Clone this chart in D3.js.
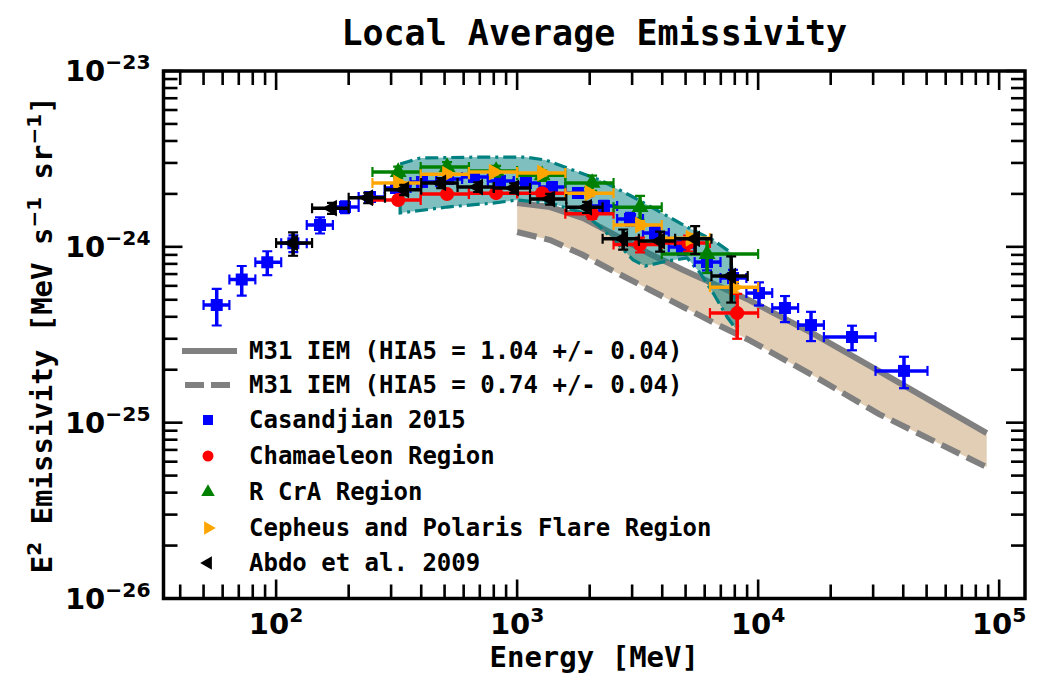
<!DOCTYPE html>
<html><head><meta charset="utf-8">
<script src="https://cdn.jsdelivr.net/npm/d3@7"></script>
<style>body{margin:0;background:#fff} svg{display:block}</style>
</head><body>
<svg id="chart" width="1050" height="688"></svg>
<script>
// ---------------- DATA ----------------
const xDomain = [34.1, 128000];
const yDomain = [1e-26, 1e-23];
const xMajorTicks = [1e2, 1e3, 1e4, 1e5];
const xTickExp = ["2", "3", "4", "5"];
const yMajorTicks = [1e-26, 1e-25, 1e-24, 1e-23];
const yTickExp = ["−26", "−25", "−24", "−23"];

// Casandjian 2015 (blue squares)
const casE = [56.7, 72.0, 91.9, 117.9, 152.1, 193.1, 245.3, 314.4, 402.9, 516.7, 662.2, 849, 1088, 1395, 1788, 2293, 2939, 3733, 4831, 6135, 7864, 10080, 12920, 16570, 24520, 40280];
const casEdges = [50, 64, 82, 105, 134, 172, 220, 282, 361, 462, 591, 756, 968, 1239, 1586, 2031, 2600, 3328, 4259, 5453, 6979, 8937, 11440, 14650, 18740, 30690, 50420];
const casV = [4.67e-25, 6.53e-25, 8.17e-25, 1.047e-24, 1.331e-24, 1.684e-24, 1.92e-24, 2.161e-24, 2.337e-24, 2.431e-24, 2.495e-24, 2.368e-24, 2.307e-24, 2.189e-24, 2.024e-24, 1.707e-24, 1.44e-24, 1.199e-24, 9.98e-25, 8.19e-25, 6.65e-25, 5.46e-25, 4.49e-25, 3.59e-25, 3.07e-25, 1.97e-25];
const casErr = [1.1e-25, 1.25e-25, 1.27e-25, 1.15e-25, 1.4e-25, 1.3e-25, 1.2e-25, 1.2e-25, 1.2e-25, 1.2e-25, 1.2e-25, 1.2e-25, 1.2e-25, 1.2e-25, 1.2e-25, 1.2e-25, 1.2e-25, 1.1e-25, 1.0e-25, 8.5e-26, 7.5e-26, 8.2e-26, 7.6e-26, 6.8e-26, 4.9e-26, 4.0e-26];

// Chamaeleon Region (red circles)
const chaE = [321, 512, 818, 1270, 2047, 3236, 5123, 8185];
const chaEdges = [251, 398, 631, 1000, 1585, 2512, 3981, 6310, 10000];
const chaV = [1.845e-24, 1.995e-24, 2.02e-24, 2.02e-24, 1.54e-24, 1.03e-24, 1.05e-24, 4.2e-25];
const chaErr = [8e-26, 8e-26, 8e-26, 8e-26, 1.0e-25, 1.0e-25, 1.1e-25, 1.2e-25];

// R CrA Region (green triangles)
const rcrE = [321, 512, 818, 1270, 2047, 3236, 6141];
const rcrEdges = [251, 398, 631, 1000, 1585, 2512, 3981, 10000];
const rcrV = [2.66e-24, 2.84e-24, 2.70e-24, 2.55e-24, 2.31e-24, 1.68e-24, 9.1e-25];
const rcrErr = [2.0e-25, 1.9e-25, 1.9e-25, 1.8e-25, 2.3e-25, 2.7e-25, 2.0e-25];

// Cepheus and Polaris Flare Region (orange right triangles)
const cepE = [321, 512, 800, 1270, 2000, 3236, 5248, 7943];
const cepEdges = [251, 398, 631, 1000, 1585, 2512, 3981, 6310, 10000];
const cepV = [2.31e-24, 2.59e-24, 2.66e-24, 2.63e-24, 2.02e-24, 1.33e-24, 1.12e-24, 5.9e-25];
const cepErr = [8e-26, 8e-26, 8e-26, 8e-26, 8e-26, 7e-26, 6e-26, 4e-26];

// Abdo et al. 2009 (black left triangles)
const abdE = [117.6, 170.6, 241, 340, 484, 689, 972, 1371, 1951, 2754, 3920, 5478, 7731];
const abdEdges = [100, 141, 200, 283, 400, 566, 800, 1131, 1600, 2263, 3200, 4525, 6400, 9051];
const abdV = [1.05e-24, 1.66e-24, 1.90e-24, 2.11e-24, 2.31e-24, 2.19e-24, 2.16e-24, 1.87e-24, 1.68e-24, 1.11e-24, 1.08e-24, 1.11e-24, 6.82e-25];
const abdErr = [1.6e-25, 1.2e-25, 1.3e-25, 1.4e-25, 1.5e-25, 1.4e-25, 1.4e-25, 1.3e-25, 1.2e-25, 1.45e-25, 1.4e-25, 2.0e-25, 2.0e-25];

// M31 IEM models
const iemE = [1000, 1371, 1879, 2600, 3565, 4886, 6700, 9182, 16760, 31740, 88770];
const iemHighV = [1.774e-24, 1.684e-24, 1.458e-24, 1.152e-24, 9.10e-25, 7.38e-25, 6.06e-25, 4.98e-25, 3.23e-25, 1.965e-25, 8.73e-26];
const iemLowV = [1.214e-24, 1.093e-24, 8.98e-25, 7.10e-25, 5.68e-25, 4.55e-25, 3.64e-25, 2.95e-25, 1.865e-25, 1.119e-25, 5.59e-26];

// Local measurement envelope (teal band)
const bandUpperE = [327, 396, 702, 1080, 1307, 1613, 2210, 3029, 3921, 5075, 6507, 7652];
const bandUpperV = [2.96e-24, 3.20e-24, 3.24e-24, 3.24e-24, 3.12e-24, 2.81e-24, 2.40e-24, 1.92e-24, 1.578e-24, 1.296e-24, 1.093e-24, 9.34e-25];
const bandLowerE = [327, 512, 795, 1000, 1371, 1879, 2210, 2600, 3029, 3397, 4190, 5075, 5744, 6507, 7435, 8260];
const bandLowerV = [1.557e-24, 1.684e-24, 1.774e-24, 1.845e-24, 1.774e-24, 1.557e-24, 1.296e-24, 1.051e-24, 8.41e-25, 7.78e-25, 8.30e-25, 8.64e-25, 7.10e-25, 5.46e-25, 3.99e-25, 3.28e-25];

const legendLabels = ["M31 IEM (HIA5 = 1.04 +/- 0.04)", "M31 IEM (HIA5 = 0.74 +/- 0.04)", "Casandjian 2015", "Chamaeleon Region", "R CrA Region", "Cepheus and Polaris Flare Region", "Abdo et al. 2009"];

// ---------------- DRAW ----------------
const svg = d3.select("#chart");
const L = 163.5, R = 1025, T = 71, B = 598.5;
const x = d3.scaleLog().domain(xDomain).range([L, R]);
const y = d3.scaleLog().domain(yDomain).range([B, T]);
const MONO = "'DejaVu Sans Mono', monospace";
const SANS = "'DejaVu Sans', sans-serif";

svg.append("rect").attr("width", 1050).attr("height", 688).attr("fill", "#fff");
svg.append("defs").append("clipPath").attr("id", "clip")
  .append("rect").attr("x", L).attr("y", T).attr("width", R - L).attr("height", B - T);
const plot = svg.append("g").attr("clip-path", "url(#clip)");

// Tan band between models
const area = d3.area().x((d, i) => x(iemE[i])).y0((d, i) => y(iemLowV[i])).y1((d, i) => y(iemHighV[i]));
plot.append("path").attr("d", area(iemE)).attr("fill", "#d2b48c").attr("fill-opacity", 0.65);

const mline = vals => d3.line().x((d, i) => x(iemE[i])).y((d, i) => y(vals[i]))(iemE);
plot.append("path").attr("d", mline(iemHighV)).attr("fill", "none").attr("stroke", "#808080").attr("stroke-width", 6);
plot.append("path").attr("d", mline(iemLowV)).attr("fill", "none").attr("stroke", "#808080").attr("stroke-width", 6).attr("stroke-dasharray", "20,8");

// Teal band
const bandPts = bandUpperE.map((e, i) => [x(e), y(bandUpperV[i])])
  .concat(bandLowerE.map((e, i) => [x(e), y(bandLowerV[i])]).reverse());
plot.append("path").attr("d", d3.line()(bandPts) + "Z")
  .attr("fill", "#008080").attr("fill-opacity", 0.5)
  .attr("stroke", "#008080").attr("stroke-width", 3.2).attr("stroke-dasharray", "13,5,3,5");

// Error bar series
function marker(type, size) {
  if (type === "square") return d3.symbol(d3.symbolSquare, size * size)();
  if (type === "circle") return d3.symbol(d3.symbolCircle, Math.PI * size * size / 4)();
  return d3.symbol(d3.symbolTriangle, size * size * 0.55)();
}
function series(E, edges, V, err, color, type, size) {
  const g = plot.append("g");
  const cap = 5;
  E.forEach((e, i) => {
    const cx = x(e), cy = y(V[i]);
    const x0 = x(edges[i]), x1 = x(edges[i + 1]);
    const y0 = y(V[i] + err[i]), y1 = y(V[i] - err[i]);
    g.append("line").attr("x1", x0).attr("x2", x1).attr("y1", cy).attr("y2", cy).attr("stroke", color).attr("stroke-width", 3.5);
    g.append("line").attr("x1", cx).attr("x2", cx).attr("y1", y0).attr("y2", y1).attr("stroke", color).attr("stroke-width", 3.5);
    [x0, x1].forEach(xx => g.append("line").attr("x1", xx).attr("x2", xx).attr("y1", cy - cap).attr("y2", cy + cap).attr("stroke", color).attr("stroke-width", 2.2));
    [y0, y1].forEach(yy => g.append("line").attr("x1", cx - cap).attr("x2", cx + cap).attr("y1", yy).attr("y2", yy).attr("stroke", color).attr("stroke-width", 2.2));
  });
  E.forEach((e, i) => {
    const rot = type === "right" ? 90 : type === "left" ? -90 : 0;
    g.append("path").attr("d", marker(type, size))
      .attr("transform", `translate(${x(e)},${y(V[i])}) rotate(${rot})`).attr("fill", color);
  });
}
series(casE, casEdges, casV, casErr, "#0000ff", "square", 12);
series(chaE, chaEdges, chaV, chaErr, "#ff0000", "circle", 14);
series(rcrE, rcrEdges, rcrV, rcrErr, "#008000", "up", 15);
series(cepE, cepEdges, cepV, cepErr, "#ffa500", "right", 15);
series(abdE, abdEdges, abdV, abdErr, "#000000", "left", 15);

// Axes frame + ticks
const ax = svg.append("g");
function minors(domain) {
  const out = [];
  const lo = Math.floor(Math.log10(domain[0])), hi = Math.ceil(Math.log10(domain[1]));
  for (let k = lo; k <= hi; k++) for (let m = 2; m <= 9; m++) {
    const v = m * Math.pow(10, k);
    if (v > domain[0] && v < domain[1]) out.push(v);
  }
  return out;
}
const tw = 2.6, MAJ = 19, MIN = 14;
minors(xDomain).forEach(v => {
  const px = x(v);
  ax.append("line").attr("x1", px).attr("x2", px).attr("y1", B).attr("y2", B - MIN).attr("stroke", "#000").attr("stroke-width", tw);
  ax.append("line").attr("x1", px).attr("x2", px).attr("y1", T).attr("y2", T + MIN).attr("stroke", "#000").attr("stroke-width", tw);
});
xMajorTicks.forEach(v => {
  const px = x(v);
  ax.append("line").attr("x1", px).attr("x2", px).attr("y1", B).attr("y2", B - MAJ).attr("stroke", "#000").attr("stroke-width", tw);
  ax.append("line").attr("x1", px).attr("x2", px).attr("y1", T).attr("y2", T + MAJ).attr("stroke", "#000").attr("stroke-width", tw);
});
minors(yDomain).forEach(v => {
  const py = y(v);
  ax.append("line").attr("x1", L).attr("x2", L + MIN).attr("y1", py).attr("y2", py).attr("stroke", "#000").attr("stroke-width", tw);
  ax.append("line").attr("x1", R).attr("x2", R - MIN).attr("y1", py).attr("y2", py).attr("stroke", "#000").attr("stroke-width", tw);
});
yMajorTicks.forEach(v => {
  const py = y(v);
  ax.append("line").attr("x1", L).attr("x2", L + MAJ).attr("y1", py).attr("y2", py).attr("stroke", "#000").attr("stroke-width", tw);
  ax.append("line").attr("x1", R).attr("x2", R - MAJ).attr("y1", py).attr("y2", py).attr("stroke", "#000").attr("stroke-width", tw);
});
ax.append("rect").attr("x", L).attr("y", T).attr("width", R - L).attr("height", B - T)
  .attr("fill", "none").attr("stroke", "#000").attr("stroke-width", 3.5);

// Tick labels
const TFS = 29;
xMajorTicks.forEach((v, i) => {
  const t = ax.append("text").attr("x", x(v)).attr("y", B + 35).attr("text-anchor", "middle")
    .attr("font-family", SANS).attr("font-weight", "bold").attr("font-size", TFS);
  t.append("tspan").text("10");
  t.append("tspan").attr("dy", -12).attr("font-size", TFS * 0.7).text(xTickExp[i]);
});
yMajorTicks.forEach((v, i) => {
  const t = ax.append("text").attr("x", L - 13).attr("y", y(v) + 10).attr("text-anchor", "end")
    .attr("font-family", SANS).attr("font-weight", "bold").attr("font-size", TFS);
  t.append("tspan").text("10");
  t.append("tspan").attr("dy", -12).attr("font-size", TFS * 0.7).text(yTickExp[i]);
});

// Titles
svg.append("text").attr("x", (L + R) / 2).attr("y", 45).attr("text-anchor", "middle")
  .attr("font-family", MONO).attr("font-weight", "bold").attr("font-size", 35).text("Local Average Emissivity");
svg.append("text").attr("x", (L + R) / 2).attr("y", 667).attr("text-anchor", "middle")
  .attr("font-family", MONO).attr("font-weight", "bold").attr("font-size", 29).text("Energy [MeV]");
const yl = svg.append("text").attr("transform", `translate(52,${(T + B) / 2}) rotate(-90)`).attr("text-anchor", "middle")
  .attr("font-family", MONO).attr("font-weight", "bold").attr("font-size", 29);
yl.append("tspan").text("E");
yl.append("tspan").attr("dy", -11).attr("font-size", 20).attr("font-family", SANS).text("2");
yl.append("tspan").attr("dy", 11).text(" Emissivity [MeV s");
yl.append("tspan").attr("dy", -11).attr("font-size", 20).attr("font-family", SANS).text("−1");
yl.append("tspan").attr("dy", 11).text(" sr");
yl.append("tspan").attr("dy", -11).attr("font-size", 20).attr("font-family", SANS).text("−1");
yl.append("tspan").attr("dy", 11).text("]");

// Legend
const lg = svg.append("g");
const rowY = [351, 385, 420, 456, 492, 528, 563];
const textX = 249;
lg.append("line").attr("x1", 182).attr("x2", 237).attr("y1", rowY[0]).attr("y2", rowY[0]).attr("stroke", "#808080").attr("stroke-width", 6);
lg.append("line").attr("x1", 185).attr("x2", 237).attr("y1", rowY[1]).attr("y2", rowY[1]).attr("stroke", "#808080").attr("stroke-width", 6).attr("stroke-dasharray", "19,7");
const legMarkers = [["square", "#0000ff", 0, 10], ["circle", "#ff0000", 0, 11], ["up", "#008000", 0, 12], ["right", "#ffa500", 90, 12], ["left", "#000000", -90, 12]];
legMarkers.forEach((m, i) => {
  lg.append("path").attr("d", marker(m[0], m[3])).attr("fill", m[1])
    .attr("transform", `translate(208,${rowY[i + 2]}) rotate(${m[2]})`);
});
legendLabels.forEach((s, i) => {
  lg.append("text").attr("x", textX).attr("y", rowY[i] + 8).attr("font-family", MONO).attr("font-weight", "bold")
    .attr("font-size", 24).text(s);
});
</script>
</body></html>
